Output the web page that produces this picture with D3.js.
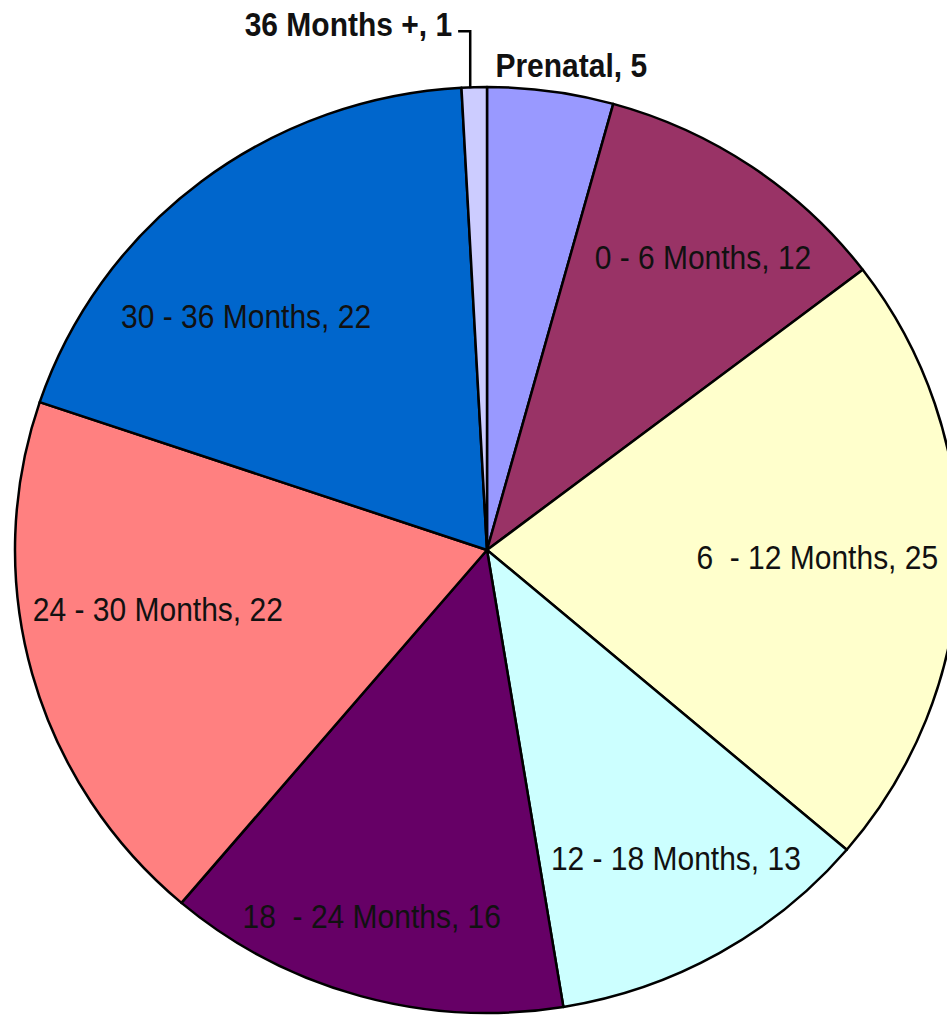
<!DOCTYPE html>
<html lang="en">
<head>
    <meta charset="UTF-8">
    <title>Ages pie chart</title>
    <script src="https://d3js.org/d3.v7.min.js"></script>
    <style>
        html, body { margin: 0; padding: 0; background: #ffffff; }
        svg { display: block; }
        text { font-family: "Liberation Sans", Arial, sans-serif; white-space: pre; }
    </style>
</head>
<body>
    <svg id="pie" width="947" height="1018"></svg>
    <script>
        // chart data
        const categories = ['Prenatal', '0 - 6 Months', '6  - 12 Months', '12 - 18 Months',
            '18  - 24 Months', '24 - 30 Months', '30 - 36 Months', '36 Months +'];
        const counts = [5, 12, 25, 13, 16, 22, 22, 1];
        const sliceColors = ['#9999ff', '#993366', '#ffffcc', '#ccffff',
            '#660066', '#ff8080', '#0066cc', '#ccccff'];

        const data = categories.map((c, i) => ({ name: c, value: counts[i], color: sliceColors[i] }));

        const svg = d3.select('#pie');
        const cx = 487, cy = 550;
        const R = 463;          // vertical radius
        const sx = 472 / 463;   // the pie is a bit wider than tall

        const pie = d3.pie().sort(null).value(d => d.value);
        const arcs = pie(data);
        const arc = d3.arc().innerRadius(0).outerRadius(R);

        const g = svg.append('g').attr('transform', `translate(${cx},${cy}) scale(${sx},1)`);
        g.selectAll('path')
            .data(arcs)
            .enter()
            .append('path')
            .attr('d', arc)
            .attr('fill', d => d.data.color)
            .attr('stroke', '#000')
            .attr('stroke-width', 2.5)
            .attr('stroke-linejoin', 'round')
            .attr('vector-effect', 'non-scaling-stroke');

        // label placement: polar point on the slice mid-angle, then a small nudge (Excel style)
        const polar = (a, r) => [cx + Math.sin(a) * r * sx, cy - Math.cos(a) * r];
        const mid = d => (d.startAngle + d.endAngle) / 2;
        const inside = {
            '0 - 6 Months': [12, 2],
            '6  - 12 Months': [-33, -2],
            '12 - 18 Months': [10, -2],
            '18  - 24 Months': [-18, 23],
            '24 - 30 Months': [21, -36],
            '30 - 36 Months': [-21, 50]
        };
        const outside = {
            'Prenatal': { nudge: [15, 14], anchor: 'middle' },
            '36 Months +': { nudge: [-21, -23], anchor: 'end' }
        };

        const labels = svg.append('g');
        arcs.forEach(d => {
            const name = d.data.name;
            const txt = `${name}, ${d.data.value}`;
            let x, y, anchor = 'middle', bold = false;
            if (inside[name]) {
                const p = polar(mid(d), R * 0.77);
                x = p[0] + inside[name][0];
                y = p[1] + inside[name][1];
            } else {
                const o = outside[name];
                const p = polar(mid(d), R + 40);
                x = p[0] + o.nudge[0];
                y = p[1] + o.nudge[1];
                anchor = o.anchor;
                bold = true;
                if (anchor === 'end') {
                    // leader line from the slice edge to the label
                    const e = polar(mid(d), R);
                    const lx = e[0] - 4;
                    labels.append('path')
                        .attr('d', `M${lx},${e[1] + 1} V${y + 7} H${x + 6}`)
                        .attr('fill', 'none')
                        .attr('stroke', '#000')
                        .attr('stroke-width', 2.5);
                }
            }
            labels.append('text')
                .attr('transform', `translate(${x},${y}) scale(1,1.1)`)
                .attr('y', 10.7)
                .attr('text-anchor', anchor)
                .attr('font-size', 30)
                .attr('font-weight', bold ? 'bold' : 'normal')
                .attr('fill', '#111')
                .text(txt);
        });
    </script>
</body>
</html>
